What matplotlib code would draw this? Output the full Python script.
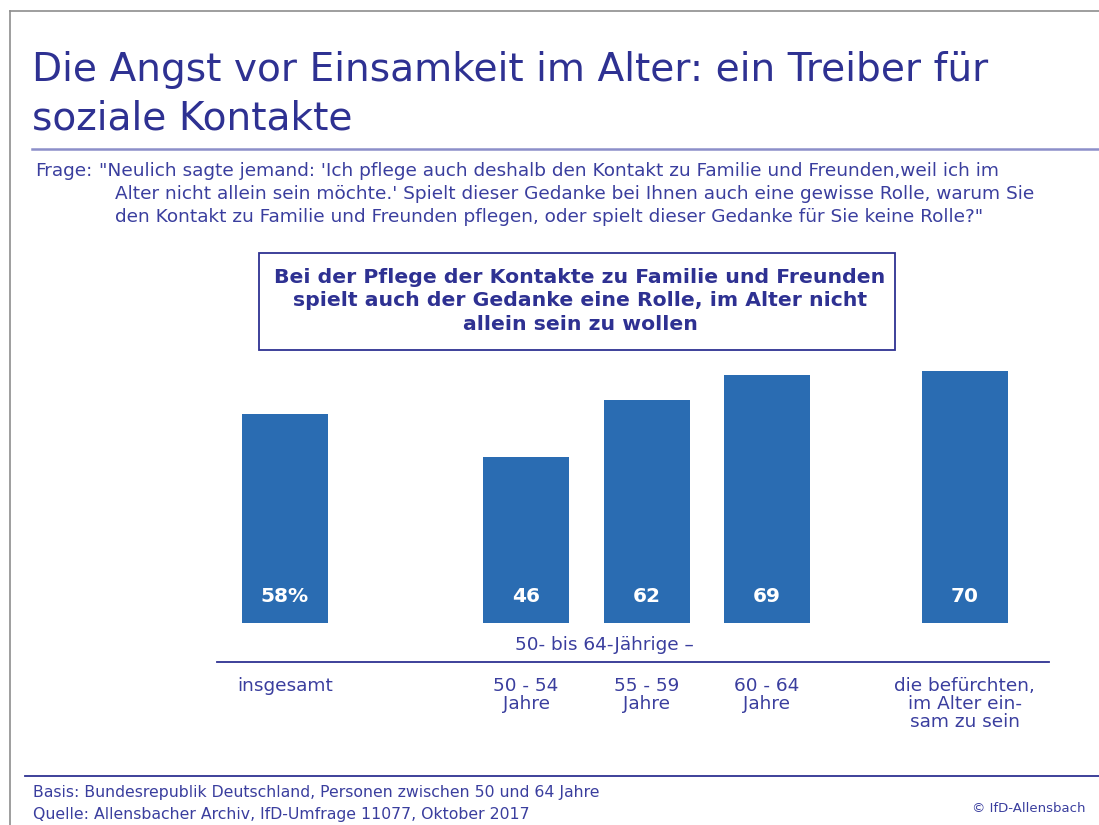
import matplotlib
matplotlib.use("Agg")
import matplotlib.pyplot as plt
from matplotlib.lines import Line2D
from matplotlib.patches import Rectangle
from matplotlib.transforms import blended_transform_factory

# ---------------- data ----------------
categories = ["insgesamt", "50 - 54\nJahre", "55 - 59\nJahre", "60 - 64\nJahre",
              "die befürchten,\nim Alter ein-\nsam zu sein"]
values = [58, 46, 62, 69, 70]
value_labels = ["58%", "46", "62", "69", "70"]
group_label = "50- bis 64-Jährige –"

title_lines = ["Die Angst vor Einsamkeit im Alter: ein Treiber für", "soziale Kontakte"]
question_lines = [
    "\"Neulich sagte jemand: 'Ich pflege auch deshalb den Kontakt zu Familie und Freunden,weil ich im",
    "Alter nicht allein sein möchte.' Spielt dieser Gedanke bei Ihnen auch eine gewisse Rolle, warum Sie",
    "den Kontakt zu Familie und Freunden pflegen, oder spielt dieser Gedanke für Sie keine Rolle?\"",
]
box_text = ("Bei der Pflege der Kontakte zu Familie und Freunden\n"
            "spielt auch der Gedanke eine Rolle, im Alter nicht\n"
            "allein sein zu wollen")
footer_lines = ["Basis: Bundesrepublik Deutschland, Personen zwischen 50 und 64 Jahre",
                "Quelle: Allensbacher Archiv, IfD-Umfrage 11077, Oktober 2017"]
copyright_text = "© IfD-Allensbach"

# ---------------- style ----------------
W, H = 1099, 825
TITLE_C = "#2E3192"
TEXT_C = "#3A3E9E"
BAR_C = "#2A6CB2"
plt.rcParams["font.family"] = "DejaVu Sans"

fig = plt.figure(figsize=(W / 100, H / 100), dpi=100)
fig.patch.set_facecolor("white")

def fx(x):
    return x / W

def fy(y):
    return 1 - y / H

# frame and rules
fig.add_artist(Line2D([fx(10), fx(W)], [fy(11), fy(11)], color="#8E8E8E", lw=1.2))
fig.add_artist(Line2D([fx(10), fx(10)], [fy(11), fy(H)], color="#8E8E8E", lw=1.2))
fig.add_artist(Line2D([fx(32), fx(W)], [fy(149), fy(149)], color="#8C8FC9", lw=1.8))
fig.add_artist(Line2D([fx(25), fx(W)], [fy(776), fy(776)], color=TITLE_C, lw=1.3))

# title
for yb, line in zip([81, 129], title_lines):
    fig.text(fx(32), fy(yb), line, color=TITLE_C, fontsize=28.2, ha="left", va="baseline")

# question
QFS = 13.3
fig.text(fx(35), fy(171), "Frage:", color=TEXT_C, fontsize=QFS, va="center", ha="left")
fig.text(fx(99), fy(171), question_lines[0], color=TEXT_C, fontsize=QFS, va="center", ha="left")
fig.text(fx(115), fy(194), question_lines[1], color=TEXT_C, fontsize=QFS, va="center", ha="left")
fig.text(fx(115), fy(217), question_lines[2], color=TEXT_C, fontsize=QFS, va="center", ha="left")

# box
fig.add_artist(Rectangle((fx(259), fy(350)), fx(895) - fx(259), fy(253) - fy(350),
                         transform=fig.transFigure, fill=False, edgecolor=TITLE_C, lw=1.3))
fig.text(fx(580), fy(301), box_text, color=TITLE_C, fontsize=14.7, fontweight="bold",
         ha="center", va="center", linespacing=1.3)

# axes for bars
positions = [0, 2, 3, 4, 5.64]
unit = 120.5
x0 = 285
ax_left, ax_right = 217, 1049
ax_top, ax_bottom = 263, 623
ax = fig.add_axes([fx(ax_left), fy(ax_bottom), fx(ax_right) - fx(ax_left),
                   (ax_bottom - ax_top) / H])
ax.bar(positions, values, width=86 / unit, color=BAR_C)
ax.set_xlim((ax_left - x0) / unit, (ax_right - x0) / unit)
ax.set_ylim(0, 100)
ax.axis("off")

trans = blended_transform_factory(ax.transData, fig.transFigure)
for p, lab in zip(positions, value_labels):
    ax.text(p, fy(597), lab, transform=trans, color="white", fontsize=14.5,
            fontweight="bold", ha="center", va="center")
for p, cat in zip(positions, categories):
    ax.text(p, fy(677), cat, transform=trans, color=TEXT_C, fontsize=13.3,
            ha="center", va="top", linespacing=1.0)
ax.text((positions[1] + positions[3]) / 2 - 0.35, fy(645), group_label, transform=trans,
        color=TEXT_C, fontsize=13.3, ha="center", va="center")

fig.add_artist(Line2D([fx(217), fx(1049)], [fy(662), fy(662)], color=TITLE_C, lw=1.3))

# footer
fig.text(fx(33), fy(793), footer_lines[0], color=TEXT_C, fontsize=11.3, va="center", ha="left")
fig.text(fx(33), fy(814), footer_lines[1], color=TEXT_C, fontsize=11.3, va="center", ha="left")
fig.text(fx(1086), fy(808), copyright_text, color=TEXT_C, fontsize=9.5, va="center", ha="right")

fig.savefig("out.png", dpi=100, facecolor="white")
